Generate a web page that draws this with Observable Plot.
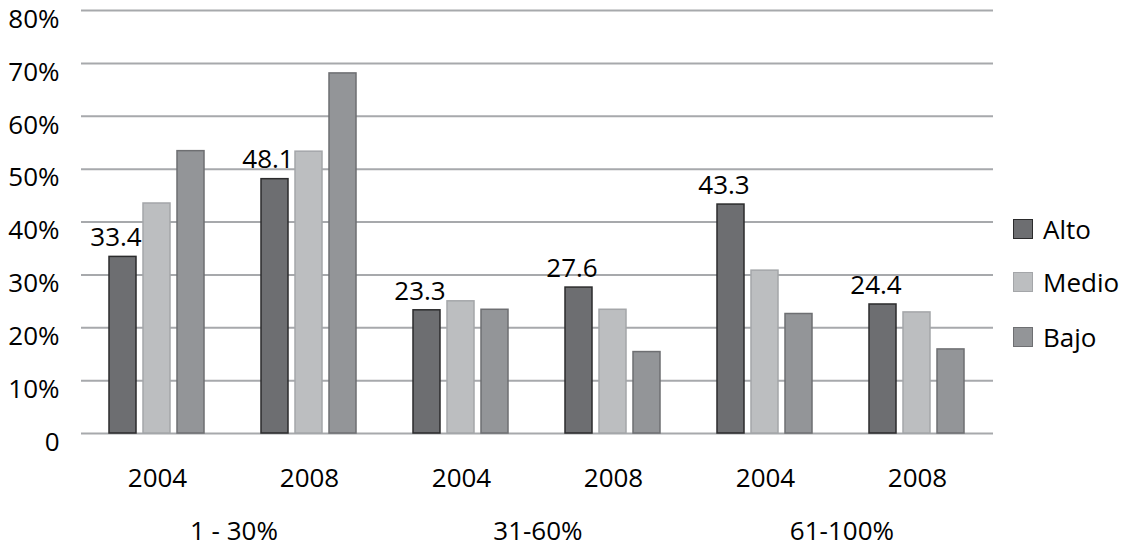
<!DOCTYPE html>
<html><head><meta charset="utf-8">
<script src="https://cdn.jsdelivr.net/npm/d3@7"></script>
<script src="https://cdn.jsdelivr.net/npm/@observablehq/plot@0.6"></script>
<style>
html,body{margin:0;padding:0;background:#fff;}
#wrap{position:relative;width:1125px;height:549px;font-family:"Open Sans",sans-serif;}
.lg{position:absolute;left:1013px;display:flex;align-items:center;font-size:26px;color:#000;height:30px;}
.lg span.sw{display:inline-block;width:18px;height:18px;margin-right:10px;box-sizing:content-box;}
</style></head><body><div id="wrap"></div><script>
const ranges = ["1 - 30%", "31-60%", "61-100%"];
const years = ["2004", "2008"];
const series = ["Alto", "Medio", "Bajo"];
const alto  = [33.4, 48.1, 23.3, 27.6, 43.3, 24.4];
const medio = [43.5, 53.3, 25.0, 23.4, 30.8, 22.9];
const bajo  = [53.4, 68.1, 23.4, 15.4, 22.6, 15.9];
const yTicks = [0, 10, 20, 30, 40, 50, 60, 70, 80];
const fills   = {Alto: "#6d6e71", Medio: "#bcbec0", Bajo: "#939598"};
const strokes = {Alto: "#2b2b2c", Medio: "#a4a6a9", Bajo: "#6e6f72"};

const keys = [];
ranges.forEach(r => years.forEach(y => keys.push(r + "|" + y)));
const values = {Alto: alto, Medio: medio, Bajo: bajo};
const rows = [];
series.forEach(s => keys.forEach((k, i) => rows.push({key: k, series: s, value: values[s][i]})));
const labelRows = rows.filter(d => d.series === "Alto");
const rangeRows = ranges.map((r, i) => ({key: keys[i * 2], range: r}));

const W = 1125, ML = 78, MR = 130;
const halfStep = ((W - ML - MR) / keys.length) / 2;

const chart = Plot.plot({
  width: W, height: 549,
  marginLeft: ML, marginRight: MR, marginTop: 10, marginBottom: 116,
  style: {fontFamily: '"Open Sans", sans-serif', fontSize: "26px", color: "#000", background: "#fff", overflow: "visible"},
  fx: {domain: keys, padding: 0, label: null},
  x: {domain: series, paddingInner: 0.2, paddingOuter: 0.83, axis: null},
  y: {domain: [0, 80], label: null},
  marks: [
    Plot.ruleY(yTicks, {stroke: "#a7a9ac", strokeWidth: 2}),
    ...series.map(s => Plot.barY(rows.filter(d => d.series === s), {
      fx: "key", x: "series", y: "value", fill: fills[s], stroke: strokes[s], strokeWidth: 1.5
    })),
    Plot.text(labelRows, {fx: "key", x: "series", y: "value", text: d => d.value.toFixed(1), dy: -19, dx: -7, fill: "#000"}),
    Plot.axisY({ticks: yTicks, tickSize: 0, tickPadding: 22, dy: 9, label: null,
      tickFormat: d => d === 0 ? "0" : d + "%"}),
    Plot.axisFx({anchor: "bottom", tickSize: 0, tickPadding: 35, label: null,
      tickFormat: k => k.split("|")[1]}),
    Plot.text(rangeRows, {fx: "key", frameAnchor: "bottom", text: "range", dy: 106, dx: halfStep, fill: "#000"})
  ]
});
const wrap = document.getElementById("wrap");
wrap.appendChild(chart);
const legendTops = [214, 267, 322];
series.forEach((s, i) => {
  const d = document.createElement("div");
  d.className = "lg";
  d.style.top = legendTops[i] + "px";
  d.innerHTML = `<span class="sw" style="background:${fills[s]};border:1.5px solid ${strokes[s]}"></span><span>${s}</span>`;
  wrap.appendChild(d);
});
</script></body></html>
